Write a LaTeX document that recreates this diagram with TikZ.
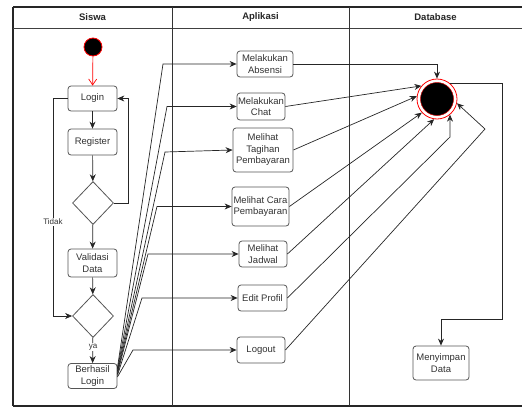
\documentclass[tikz,border=0pt]{standalone}
\usepackage{fontspec}
\setmainfont{Liberation Sans}
\usetikzlibrary{arrows.meta,shapes.geometric}
\definecolor{txt}{HTML}{333333}
\definecolor{bord}{HTML}{555555}
\tikzset{
  box/.style={draw=bord, line width=0.8pt, rounded corners=3pt, fill=white, align=center,
    inner sep=0.5pt, text=txt, font=\fontsize{9.5}{11.5}\selectfont},
  dec/.style={draw=bord, line width=0.8pt, diamond, fill=white, minimum width=41pt, minimum height=43pt, inner sep=0pt, aspect=0.95},
  con/.style={draw=black!85, line width=0.7pt, -{Stealth[length=7pt,width=6pt]}},
  hdr/.style={font=\bfseries\fontsize{9.5}{11}\selectfont, text=black!85},
  lbl/.style={font=\fontsize{8}{9}\selectfont, text=txt, fill=white, inner sep=1pt}
}
\begin{document}
\begin{tikzpicture}[x=1pt,y=-1pt]
\useasboundingbox (0,0) rectangle (522,407);
% frame and lanes
\draw[line width=1.2pt, black!85] (13,7) -- (525,7);
\draw[line width=1.2pt, black!85] (13,406) -- (525,406);
\draw[line width=1.2pt, black!85] (13,7) -- (13,406);
\draw[line width=0.9pt, black!75] (13,28) -- (525,28);
\draw[line width=0.8pt, black!80] (172,7) -- (172,406);
\draw[line width=0.8pt, black!80] (349,7) -- (349,406);
\node[hdr] (h1) at (92.5,17.5) {Siswa};
\node[hdr] (h2) at (260.5,17.5) {Aplikasi};
\node[hdr] (h3) at (435.5,17.5) {Database};

% Siswa lane
\node[circle, fill=black, draw=red, line width=0.8pt, minimum size=18pt, inner sep=0pt] (start) at (93,47) {};
\node[box, minimum width=49pt, minimum height=25pt] (login) at (92.5,98.5) {Login};
\node[box, minimum width=49pt, minimum height=26pt] (register) at (92.5,142) {Register};
\node[dec] (d1) at (93,203) {};
\node[box, minimum width=49pt, minimum height=28pt] (valid) at (92.5,263) {Validasi\\Data};
\node[dec] (d2) at (93,316) {};
\node[box, minimum width=49pt, minimum height=25pt] (berhasil) at (92.5,376) {Berhasil\\Login};

\draw[red, line width=0.7pt, -{Straight Barb[length=6pt,width=8pt]}] (start) -- (login);
\draw[con] (login) -- (register);
\draw[con] (register) -- (d1);
\draw[con] (d1.east) -- (128,203) |- (login.east);
\draw[con] (d1) -- (valid);
\draw[con] (valid) -- (d2);
\draw[con] (login.west) -- (53,98.5) |- (d2.west);
\node[lbl] (tidak) at (53,222) {Tidak};
\draw[con] (d2) -- (berhasil);
\node[lbl] (ya) at (93,347) {ya};

% Aplikasi lane
\node[box, minimum width=56pt, minimum height=26pt] (absensi) at (265,64) {Melakukan\\Absensi};
\node[box, minimum width=48pt, minimum height=27pt] (chat) at (261,106.5) {Melakukan\\Chat};
\node[box, minimum width=60pt, minimum height=44pt] (tagihan) at (263,150) {Melihat\\Tagihan\\Pembayaran};
\node[box, minimum width=57pt, minimum height=39pt] (cara) at (260.5,206.5) {Melihat Cara\\Pembayaran};
\node[box, minimum width=48pt, minimum height=26pt] (jadwal) at (263,254) {Melihat\\Jadwal};
\node[box, minimum width=49pt, minimum height=26pt] (edit) at (262.5,298) {Edit Profil};
\node[box, minimum width=48pt, minimum height=26pt] (logout) at (261,350) {Logout};

\coordinate (c1) at (163,64);
\coordinate (c2) at (167,106.5);
\coordinate (c3) at (165,152);
\coordinate (c4) at (157,206.5);
\coordinate (c5) at (148,254);
\coordinate (c6) at (142,298);
\coordinate (c7) at (133,350);
\draw[con] ([yshift=8pt]berhasil.east) -- (c1) -- (absensi.west);
\draw[con] ([yshift=6.5pt]berhasil.east) -- (c2) -- (chat.west);
\draw[con] ([yshift=5pt]berhasil.east) -- (c3) -- (tagihan.west);
\draw[con] ([yshift=3.5pt]berhasil.east) -- (c4) -- (cara.west);
\draw[con] ([yshift=2pt]berhasil.east) -- (c5) -- (jadwal.west);
\draw[con] ([yshift=0.5pt]berhasil.east) -- (c6) -- (edit.west);
\draw[con] ([yshift=-1pt]berhasil.east) -- (c7) -- (logout.west);

% Database lane
\node[circle, draw=red, fill=white, line width=0.8pt, minimum size=40pt, inner sep=0pt] (endo) at (437,99) {};
\node[circle, draw=red!80!black, fill=black, line width=0.5pt, minimum size=33pt, inner sep=0pt] (endi) at (437,99) {};
\node[box, minimum width=56pt, minimum height=34pt] (simpan) at (441,363) {Menyimpan\\Data};

\draw[con] (absensi.east) -| (endo.north);
\draw[con] (chat.east) -- (endo.140);
\draw[con] (tagihan.east) -- (endo.172);
\draw[con] (cara.east) -- (endo.222);
\draw[con] (jadwal.east) -- (endo.262);
\coordinate (ce) at (450,137);
\draw[con] (edit.east) -- (ce) -- (ce |- endo.-50);
\coordinate (cl) at (485,129);
\draw[con] (logout.east) -- (cl) -- (endo.-12);
\coordinate (cr) at (502,319);
\draw[con] (endo.50) -| (cr) -| (simpan.north);
\end{tikzpicture}
\end{document}
